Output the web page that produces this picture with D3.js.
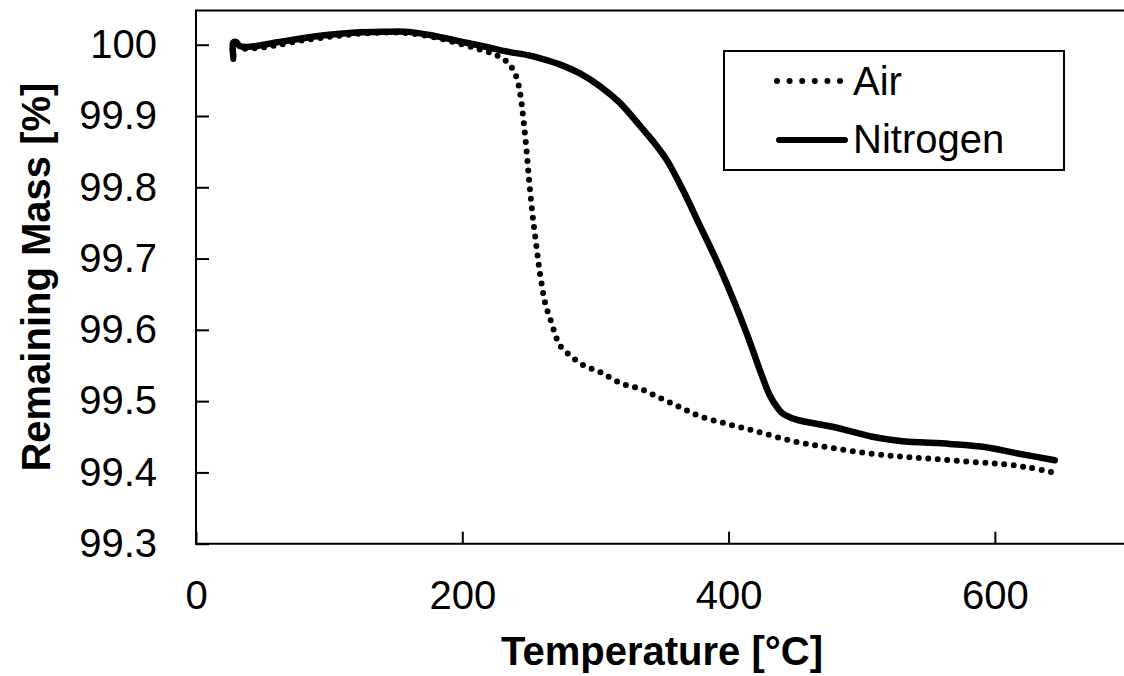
<!DOCTYPE html>
<html>
<head>
<meta charset="utf-8">
<script src="https://cdn.jsdelivr.net/npm/d3@7"></script>
<style>
  html, body { margin: 0; padding: 0; background: #fff; }
  svg { display: block; font-family: "Liberation Sans", Arial, sans-serif; }
</style>
</head>
<body>
<svg id="chart" width="1124" height="676"></svg>
<script>
// ---- Data ----
const airTemp = [28, 28, 30, 35, 45, 60, 80, 100, 120, 140, 160, 180, 195, 210, 222, 230, 234.6, 238.8, 241.6, 243.3, 244.6, 246.6, 248.4, 249.9, 251.6, 253.6, 255.9, 258.1, 261.1, 263, 266, 270.4, 273.4, 281.6, 291.4, 303.4, 319, 334, 350, 363, 378, 397, 420, 448, 475, 504, 530, 554, 580, 604, 625, 644];
const airMass = [99.980, 100.000, 100.002, 99.995, 99.995, 99.999, 100.006, 100.011, 100.015, 100.017, 100.016, 100.010, 100.003, 99.995, 99.988, 99.981, 99.974, 99.963, 99.949, 99.933, 99.917, 99.883, 99.849, 99.816, 99.782, 99.748, 99.714, 99.682, 99.648, 99.632, 99.616, 99.590, 99.578, 99.563, 99.550, 99.541, 99.525, 99.517, 99.503, 99.492, 99.479, 99.469, 99.458, 99.444, 99.435, 99.427, 99.422, 99.419, 99.415, 99.412, 99.407, 99.400];

const n2Temp = [28, 28, 30, 33, 40, 60, 80, 100, 120, 140, 160, 180, 200, 220, 235, 250, 262, 275, 288, 304, 318, 334, 346, 354, 366, 378, 391, 403, 414, 424, 431, 437, 441, 451, 478, 508, 529, 566, 591, 616, 645];
const n2Mass = [99.984, 100.003, 100.004, 99.998, 99.997, 100.003, 100.009, 100.014, 100.017, 100.018, 100.018, 100.012, 100.004, 99.996, 99.990, 99.985, 99.979, 99.971, 99.960, 99.941, 99.919, 99.885, 99.858, 99.837, 99.795, 99.748, 99.697, 99.645, 99.593, 99.541, 99.508, 99.490, 99.482, 99.474, 99.464, 99.450, 99.444, 99.440, 99.436, 99.427, 99.417];

const xTicks = [0, 200, 400, 600];
const yTicks = [99.3, 99.4, 99.5, 99.6, 99.7, 99.8, 99.9, 100];
const yTickLabels = ["99.3", "99.4", "99.5", "99.6", "99.7", "99.8", "99.9", "100"];
const seriesNames = ["Air", "Nitrogen"];
const xTitle = "Temperature [°C]";
const yTitle = "Remaining Mass [%]";

// ---- Layout ----
const left = 196, right = 1128, bottom = 543.7, top100 = 44.7, frameTop = 10.5;
const W = 1124;

const svg = d3.select("#chart");
const x = d3.scaleLinear().domain([0, 700]).range([left, right]);
const y = d3.scaleLinear().domain([99.3, 100]).range([bottom, top100]);

// Axes (ticks pointing inward)
const xAxis = d3.axisBottom(x).tickValues(xTicks).tickSizeInner(-12).tickSizeOuter(0).tickPadding(37).tickFormat(d3.format("d"));
const gx = svg.append("g").attr("transform", `translate(0,${bottom})`).call(xAxis);
const yAxis = d3.axisLeft(y).tickValues(yTicks).tickSizeInner(-13).tickSizeOuter(0).tickPadding(39)
  .tickFormat((d, i) => yTickLabels[i]);
const gy = svg.append("g").attr("transform", `translate(${left},0)`).call(yAxis);

[gx, gy].forEach(g => {
  g.select(".domain").remove();
  g.selectAll(".tick line").attr("stroke", "#000").attr("stroke-width", 2);
  g.selectAll(".tick text").attr("fill", "#000").attr("font-size", 40)
    .attr("font-family", "'Liberation Sans', Arial, sans-serif");
});

// Frame lines
svg.append("line").attr("x1", left).attr("x2", left).attr("y1", frameTop).attr("y2", bottom + 1)
  .attr("stroke", "#000").attr("stroke-width", 2);
svg.append("line").attr("x1", left - 1).attr("x2", W).attr("y1", bottom).attr("y2", bottom)
  .attr("stroke", "#000").attr("stroke-width", 2);
svg.append("line").attr("x1", left - 1).attr("x2", W).attr("y1", frameTop).attr("y2", frameTop)
  .attr("stroke", "#000").attr("stroke-width", 2);

// Series
const line = d3.line().x(d => x(d[0])).y(d => y(d[1])).curve(d3.curveCatmullRom.alpha(0.5));
const airData = airTemp.map((t, i) => [t, airMass[i]]);
const n2Data = n2Temp.map((t, i) => [t, n2Mass[i]]);

svg.append("path").datum(n2Data).attr("d", line)
  .attr("fill", "none").attr("stroke", "#000").attr("stroke-width", 6.5)
  .attr("stroke-linejoin", "round").attr("stroke-linecap", "round");

svg.append("path").datum(airData).attr("d", line)
  .attr("fill", "none").attr("stroke", "#000").attr("stroke-width", 6)
  .attr("stroke-linecap", "round").attr("stroke-dasharray", "0 9.5");

// Axis titles
svg.append("text").attr("x", (left + right) / 2).attr("y", 665)
  .attr("text-anchor", "middle").attr("font-size", 40).attr("font-weight", "bold").text(xTitle);
svg.append("text").attr("transform", `translate(50,${(frameTop + bottom) / 2}) rotate(-90)`)
  .attr("text-anchor", "middle").attr("font-size", 40).attr("font-weight", "bold").text(yTitle);

// Legend
const lg = svg.append("g");
lg.append("rect").attr("x", 724).attr("y", 51).attr("width", 340).attr("height", 119)
  .attr("fill", "#fff").attr("stroke", "#000").attr("stroke-width", 2);
lg.append("line").attr("x1", 777).attr("x2", 841).attr("y1", 81).attr("y2", 81)
  .attr("stroke", "#000").attr("stroke-width", 6).attr("stroke-linecap", "round").attr("stroke-dasharray", "0 12.6");
lg.append("line").attr("x1", 779).attr("x2", 845).attr("y1", 140).attr("y2", 140)
  .attr("stroke", "#000").attr("stroke-width", 6).attr("stroke-linecap", "round");
lg.append("text").attr("x", 853).attr("y", 95).attr("font-size", 40).text(seriesNames[0]);
lg.append("text").attr("x", 853).attr("y", 153).attr("font-size", 40).text(seriesNames[1]);
</script>
</body>
</html>
